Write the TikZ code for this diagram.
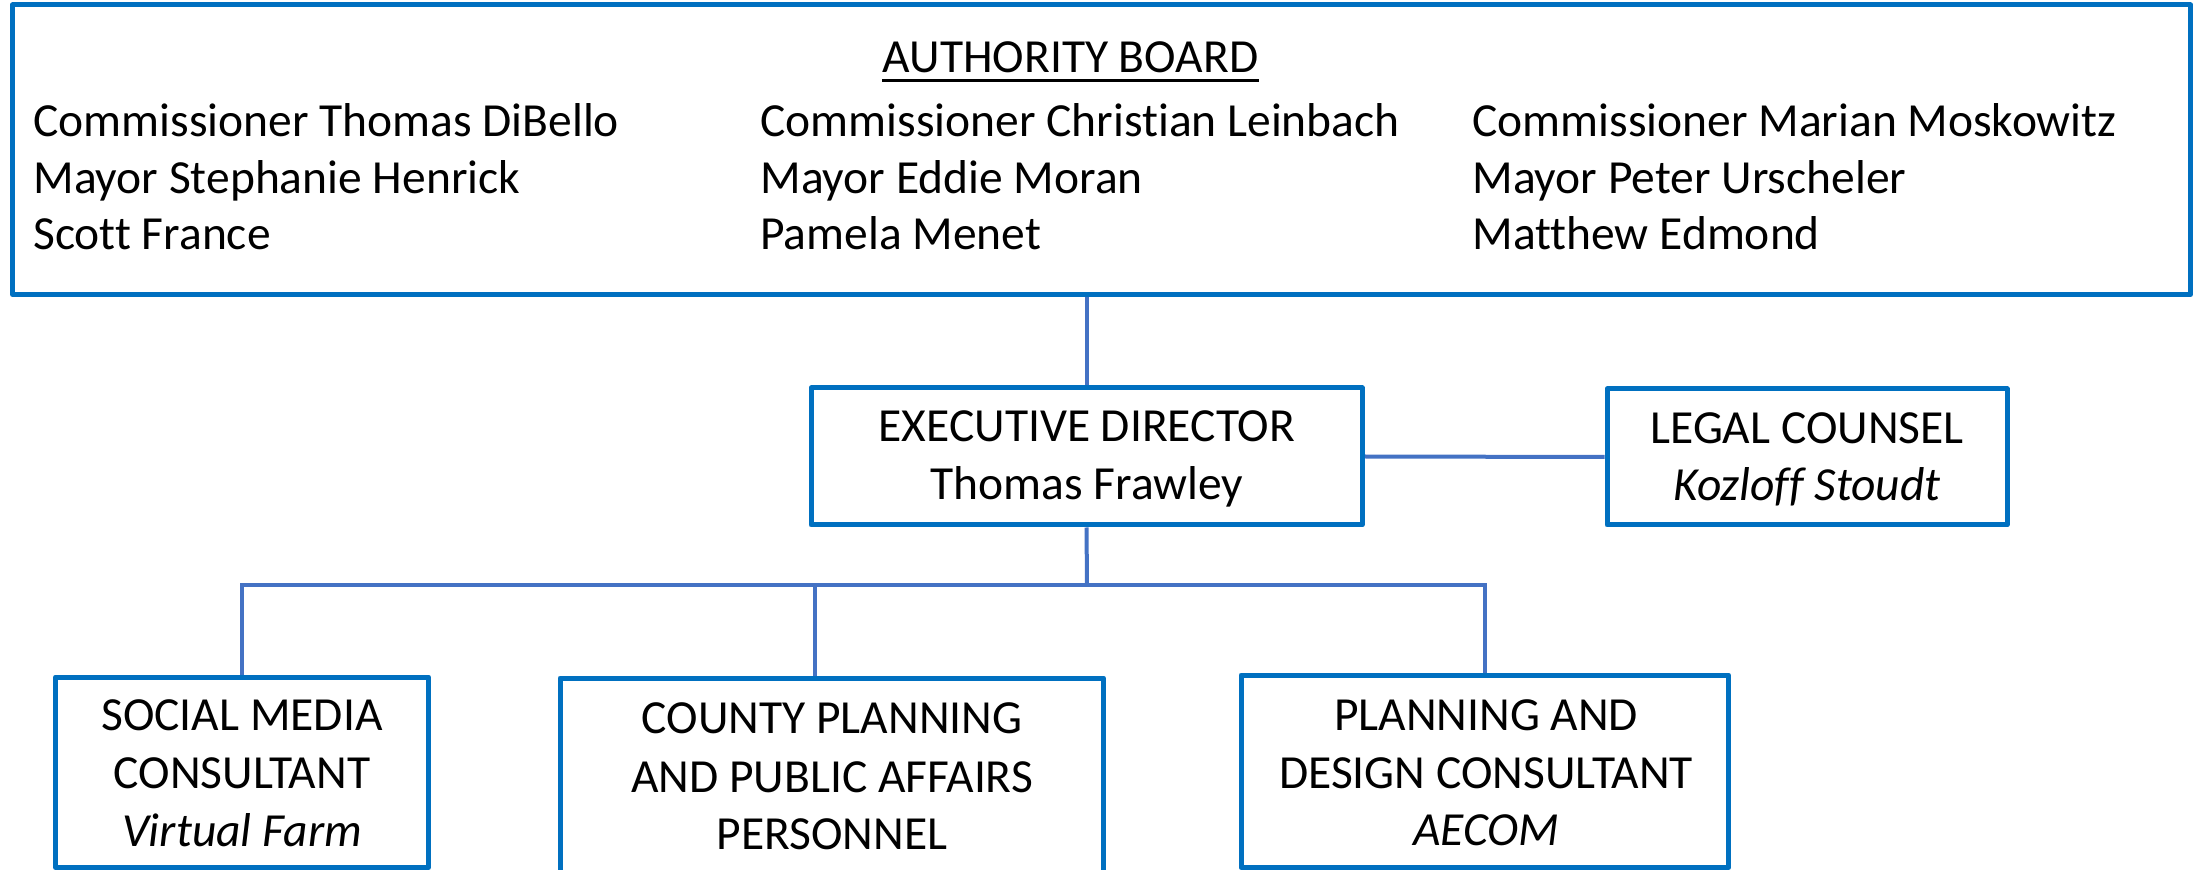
\documentclass[tikz,border=0pt]{standalone}
\usepackage{fontspec}
\setmainfont{Carlito}[Ligatures=NoCommon]
\usetikzlibrary{backgrounds}
\definecolor{boxblue}{HTML}{0070C0}
\definecolor{connblue}{HTML}{4472C4}
\begin{document}
\begin{tikzpicture}[x=0.5pt,y=-0.5pt,
  box/.style={draw=boxblue, line width=2.5pt, fill=white, inner sep=0pt, rectangle, line join=round},
  conn/.style={draw=connblue, line width=2pt},
  txt/.style={inner sep=0pt, anchor=base, text=black, font=\fontsize{23.75}{28.5}\selectfont},
  txtw/.style={txt, anchor=base west}]
\useasboundingbox (0,0) rectangle (2203,870);
\clip (0,0) rectangle (2203,870);

% boxes
\node[box, minimum width=1089pt, minimum height=144.75pt] (board) at (1101.5,149.75) {};
\node[box, minimum width=275.5pt, minimum height=68.5pt] (exec) at (1086.5,456.5) {};
\node[box, minimum width=200pt, minimum height=68pt] (legal) at (1807,457) {};
\node[box, minimum width=186.5pt, minimum height=95.25pt] (social) at (242,772.25) {};
\node[box, minimum width=271.8pt, minimum height=111pt] (county) at (831.8,789) {};
\node[box, minimum width=243.8pt, minimum height=96.25pt] (planning) at (1484.8,771.25) {};

% board text
\node[txt] (title) at (1070.5,73) {AUTHORITY BOARD};
\draw[black, line width=1.5pt] ([yshift=-3.6pt]title.base west) -- ([yshift=-3.6pt]title.base east);
\node[txtw] (b11) at (33,137) {Commissioner Thomas DiBello};
\node[txtw] (b12) at (33,193.5) {Mayor Stephanie Henrick};
\node[txtw] (b13) at (33,250) {Scott France};
\node[txtw] (b21) at (760,137) {Commissioner Christian Leinbach};
\node[txtw] (b22) at (760,193.5) {Mayor Eddie Moran};
\node[txtw] (b23) at (760,250) {Pamela Menet};
\node[txtw] (b31) at (1472,137) {Commissioner Marian Moskowitz};
\node[txtw] (b32) at (1472,193.5) {Mayor Peter Urscheler};
\node[txtw] (b33) at (1472,250) {Matthew Edmond};

% executive
\node[txt] (ex1) at (1087,442) {EXECUTIVE DIRECTOR};
\node[txt] (ex2) at (1087,500) {Thomas Frawley};
% legal
\node[txt] (lg1) at (1807,444) {LEGAL COUNSEL};
\node[txt] (lg2) at (1807,501) {\itshape Kozloff Stoudt};
% social
\node[txt] (so1) at (242,730) {SOCIAL MEDIA};
\node[txt] (so2) at (242,788) {CONSULTANT};
\node[txt] (so3) at (242,846) {\itshape Virtual Farm};
% county
\node[txt] (co1) at (832,733) {COUNTY PLANNING};
\node[txt] (co2) at (832,792) {AND PUBLIC AFFAIRS};
\node[txt] (co3) at (832,849) {PERSONNEL};
% planning
\node[txt] (pl1) at (1486,730) {PLANNING AND};
\node[txt] (pl2) at (1486,788) {DESIGN CONSULTANT};
\node[txt] (pl3) at (1486,845) {\itshape AECOM};

% connectors
\coordinate (bus) at (1087,585);
\coordinate (cbus) at (815,585);
\begin{pgfonlayer}{background}
\draw[conn] (exec.north |- board.south) -- (exec.north);
\draw[conn] (exec.east) -- (legal.west);
\draw[conn] (exec.south) -- (bus);
\draw[conn] (social.north) |- (bus) -| (planning.north);
\draw[conn] (cbus) -- (cbus |- county.north);
\end{pgfonlayer}
\end{tikzpicture}
\end{document}
